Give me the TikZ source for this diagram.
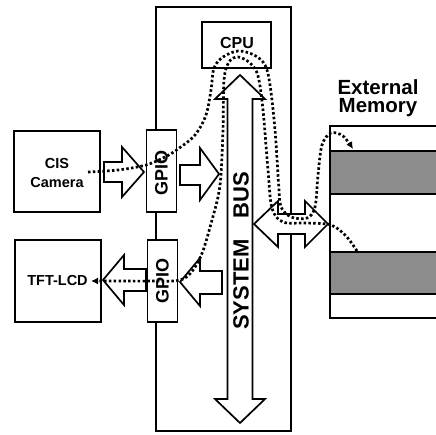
\documentclass[tikz,border=0pt]{standalone}
\usepackage{fontspec}
\setmainfont{Liberation Sans}
\usetikzlibrary{arrows.meta}
\begin{document}
\begin{tikzpicture}[x=1pt,y=-1pt,
  box/.style={draw=black,line width=1.7pt,fill=white,inner sep=0pt},
  band/.style={draw=black,line width=1.7pt,fill=black!45},
  blockarrow/.style={draw=black,line width=1.7pt,fill=white,line join=miter},
  flow/.style={line width=2.7pt,dash pattern=on 2.5pt off 2.3pt},
  lbl/.style={font=\fontsize{14.5}{19}\selectfont\bfseries,align=center,inner sep=0pt},
  gpiolbl/.style={font=\fontsize{18}{20}\selectfont\bfseries,inner sep=0pt,rotate=90}]
\useasboundingbox (0,0) rectangle (436,435);
\clip (0,0) rectangle (436,435);

% SoC outline
\node[box,fill=none,line width=1.5pt,minimum width=135pt,minimum height=424pt] (soc) at (223.5,219) {};
% CPU
\node[box,minimum width=69pt,minimum height=46pt] (cpu) at (236.5,45) {};
\node[font=\fontsize{16}{18}\selectfont\bfseries,inner sep=0pt] (cputxt) at (237,43) {CPU};

% external memory
\node[box,minimum width=140pt,minimum height=192pt] (mem) at (400,222) {};
\node[band,minimum width=140pt,minimum height=43pt,inner sep=0pt] (band1) at (400,172.5) {};
\node[band,minimum width=140pt,minimum height=42pt,inner sep=0pt] (band2) at (400,273) {};
\node[font=\fontsize{20.5}{18.5}\selectfont\bfseries,align=center,inner sep=0pt] (memtxt) at (378,98) {External\\Memory};

% system bus
\draw[blockarrow] (240,75) -- (265,99) -- (252.5,99) -- (252.5,399) -- (265,399) -- (240,423)
  -- (215,399) -- (227.5,399) -- (227.5,99) -- (215,99) -- cycle;
\node[font=\fontsize{22}{24}\selectfont\bfseries,inner sep=0pt,rotate=90] (bus) at (241,251) {SYSTEM\hspace{21pt}BUS};

% memory bus arrow
\draw[blockarrow] (254,224) -- (278,201) -- (278,214) -- (305,214) -- (305,201) -- (328,224)
  -- (305,247) -- (305,234) -- (278,234) -- (278,247) -- cycle;

% peripherals
\node[box,minimum width=86pt,minimum height=81pt] (cam) at (57,171.5) {};
\node[lbl] (camtxt) at (57,173) {CIS\\Camera};
\node[box,minimum width=86pt,minimum height=82pt] (tft) at (58,281) {};
\node[lbl] (tfttxt) at (57.5,281) {TFT-LCD};

% block arrows
\draw[blockarrow] (104,162) -- (122,162) -- (122,147) -- (144,172) -- (122,197) -- (122,182) -- (104,182) -- cycle;
\draw[blockarrow] (180,165) -- (200,165) -- (200,148) -- (219,174) -- (200,200) -- (200,185) -- (180,185) -- cycle;
\draw[blockarrow] (146,269) -- (124,269) -- (124,255) -- (103,280) -- (124,305) -- (124,291) -- (146,291) -- cycle;
\draw[blockarrow] (222,271) -- (200,271) -- (200,258) -- (180,282) -- (200,306) -- (200,294) -- (222,294) -- cycle;

% GPIO boxes
\node[box,minimum width=30pt,minimum height=82pt] (gpio1) at (161.5,171) {};
\node[gpiolbl] (g1txt) at (161.5,173) {GPIO};
\node[box,minimum width=30pt,minimum height=82pt] (gpio2) at (162.5,281) {};
\node[gpiolbl] (g2txt) at (162.5,281) {GPIO};

% data flows
\coordinate (camout) at (88,172);
\coordinate (band1in) at (353,149);
\coordinate (band2out) at (357,251);
\coordinate (tftin) at (91,281);
\draw[flow,-{Latex[length=7pt,width=7pt]}] plot[smooth,tension=0.55] coordinates {
  (camout) (118,170) (146,165) (165,157) (178,149) (195,135) (206,115) (211,90) (214,68)
  (223,57) (238,51) (254,55) (265,65) (270,85) (275,130) (279,190) (281,207) (291,217)
  (307,218) (315,207) (318,175) (322,145) (331,133) (343,136) (band1in)};
\draw[flow,-{Latex[length=7pt,width=7pt]}] plot[smooth,tension=0.55] coordinates {
  (band2out) (346,236) (331,225) (307,223) (283,222) (272,208) (268,170) (263,110) (258,76)
  (250,63) (238,57) (229,62) (224,80) (223,130) (220,185) (212,220) (200,258) (183,279)
  (150,281) (120,281) (tftin)};
\end{tikzpicture}
\end{document}
